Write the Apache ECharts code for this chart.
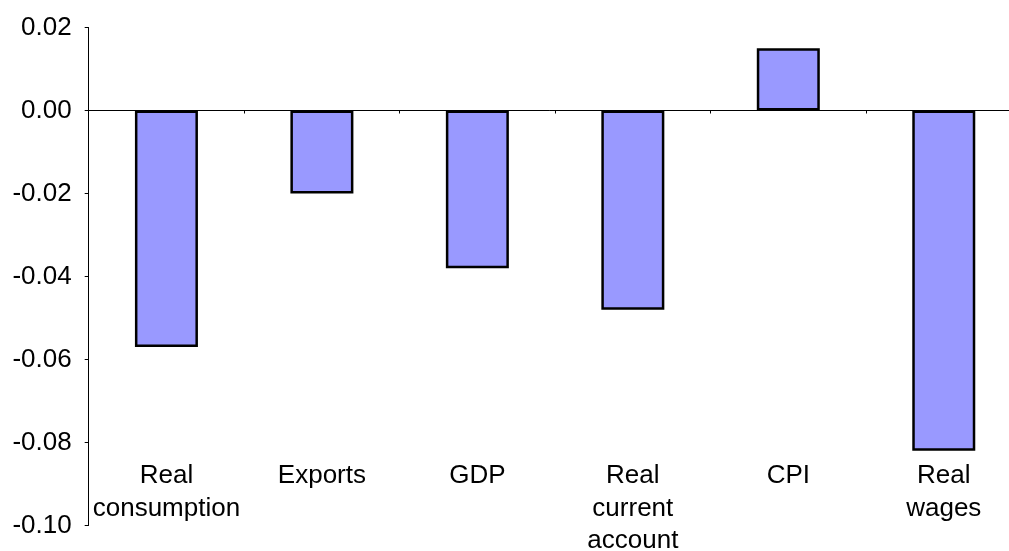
<!DOCTYPE html>
<html>
<head>
<meta charset="utf-8">
<script src="https://cdn.jsdelivr.net/npm/echarts@6/dist/echarts.min.js"></script>
<style>
html,body{margin:0;padding:0;background:#fff;}
#chart{width:1009px;height:551px;}
</style>
</head>
<body>
<div id="chart"></div>
<script>
const categories = ["Real\nconsumption", "Exports", "GDP", "Real\ncurrent\naccount", "CPI", "Real\nwages"];
const values = [-0.057, -0.020, -0.038, -0.048, 0.015, -0.082];
const yMin = -0.10, yMax = 0.02, yStep = 0.02;

const labelFont = {
  color: '#000',
  fontFamily: 'Liberation Sans, Arial, sans-serif',
  fontSize: 26
};

const chart = echarts.init(document.getElementById('chart'));
chart.setOption({
  animation: false,
  backgroundColor: '#fff',
  grid: { left: 88.7, right: -12.5, top: 27.5, bottom: 25.5, containLabel: false, outerBoundsMode: 'none' },
  xAxis: [{
    type: 'category',
    data: categories,
    axisLine: { onZero: true, lineStyle: { color: '#000', width: 1 } },
    axisTick: { show: true, length: 3, inside: false, lineStyle: { color: '#000' } },
    axisLabel: { show: false },
    splitLine: { show: false }
  }, {
    type: 'category',
    data: categories,
    position: 'bottom',
    axisLine: { show: false, onZero: false },
    axisTick: { show: false },
    axisLabel: Object.assign({
      show: true,
      margin: -65.5,
      lineHeight: 32.5,
      interval: 0,
      verticalAlign: 'top',
      align: 'center',
      hideOverlap: false
    }, labelFont),
    splitLine: { show: false }
  }],
  yAxis: {
    type: 'value',
    min: yMin, max: yMax, interval: yStep,
    axisLine: { show: true, lineStyle: { color: '#000', width: 1 } },
    axisTick: { show: true, length: 4, lineStyle: { color: '#000' } },
    axisLabel: Object.assign({
      margin: 17,
      formatter: v => v.toFixed(2)
    }, labelFont),
    splitLine: { show: false }
  },
  series: [{
    type: 'bar',
    xAxisIndex: 0,
    data: values,
    barWidth: 63,
    itemStyle: { color: '#9999FF', borderColor: '#000', borderWidth: 2.5 }
  }]
});
</script>
</body>
</html>
